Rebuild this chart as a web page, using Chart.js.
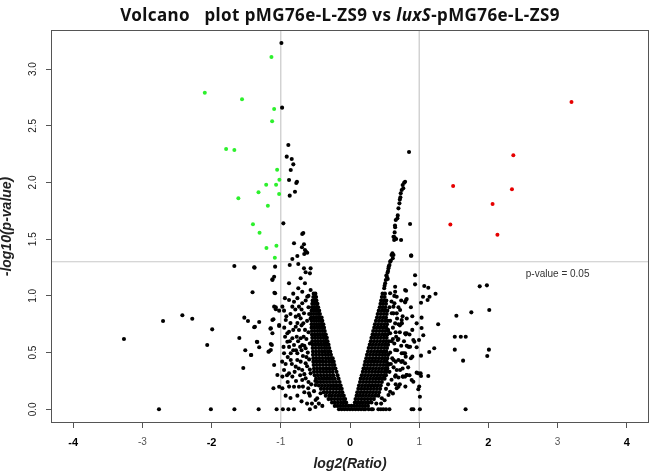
<!DOCTYPE html>
<html><head><meta charset="utf-8">
<script src="https://cdn.jsdelivr.net/npm/chart.js@4.4.0/dist/chart.umd.min.js"></script>
<style>
html,body{margin:0;padding:0;background:#fff;}
#wrap{position:relative;width:653px;height:475px;}
#title{position:absolute;top:3px;left:27px;width:626px;text-align:center;font:bold 17px "Noto Sans",sans-serif;letter-spacing:0.4px;color:#111;white-space:pre;}
</style></head><body>
<div id="wrap"><canvas id="c" width="653" height="475"></canvas>
<div id="title">Volcano   plot pMG76e-L-ZS9 vs <i>luxS</i>-pMG76e-L-ZS9</div></div>
<script>
const xTickValues = [-4,-3,-2,-1,0,1,2,3,4];
const yTickValues = [0,0.5,1,1.5,2,2.5,3];
const yTickLabels = ['0.0','0.5','1.0','1.5','2.0','2.5','3.0'];
const foldCutoffs = [-1, 1];
const pCutoff = 0.05;
const pLabel = 'p-value = 0.05';

const upRegulated = [[3.2,2.71],[2.36,2.24],[1.49,1.97],[2.34,1.94],[2.06,1.81],[1.45,1.63],[2.13,1.54]];
const downRegulated = [[-1.135,3.107],[-2.098,2.792],[-1.56,2.734],[-1.096,2.648],[-1.125,2.54],[-1.79,2.295],[-1.671,2.287],[-1.053,2.113],[-1.02,2.025],[-1.211,1.981],[-1.068,1.981],[-1.322,1.914],[-1.024,1.899],[-1.613,1.861],[-1.187,1.796],[-1.402,1.631],[-1.307,1.557],[-1.207,1.422],[-1.063,1.443],[-1.086,1.337]];

const zeroRowX = [-2.76,-2.01,-1.67,-1.32,-1.06,-0.97,-0.89,-0.81,-0.58,-0.16,-0.12,-0.08,-0.04,0.0,0.04,0.08,0.12,0.16,0.2,0.22,0.27,0.31,0.33,0.41,0.445,0.48,0.52,0.57,0.89,0.915,1.01,1.67];

const leftArmRows = [
[0.03,-0.22,-0.18,-0.14,-0.1,-0.06,-0.02],
[0.06,-0.26,-0.22,-0.175,-0.13,-0.09,-0.055],
[0.09,-0.31,-0.27,-0.225,-0.18,-0.14,-0.1,-0.07],
[0.12,-0.35,-0.3,-0.26,-0.215,-0.17,-0.13,-0.09],
[0.15,-0.38,-0.335,-0.29,-0.245,-0.2,-0.155,-0.11],
[0.18,-0.42,-0.375,-0.33,-0.285,-0.24,-0.195,-0.15,-0.12],
[0.21,-0.45,-0.405,-0.36,-0.315,-0.27,-0.225,-0.18,-0.135],
[0.24,-0.47,-0.425,-0.38,-0.335,-0.29,-0.245,-0.2,-0.15],
[0.27,-0.49,-0.445,-0.4,-0.355,-0.31,-0.265,-0.22,-0.165],
[0.30,-0.51,-0.465,-0.42,-0.375,-0.33,-0.285,-0.24,-0.18],
[0.33,-0.52,-0.475,-0.43,-0.385,-0.34,-0.295,-0.25,-0.195],
[0.36,-0.52,-0.475,-0.43,-0.385,-0.34,-0.295,-0.25,-0.21],
[0.39,-0.525,-0.48,-0.435,-0.39,-0.345,-0.3,-0.26,-0.225],
[0.42,-0.53,-0.485,-0.44,-0.395,-0.35,-0.305,-0.265,-0.235],
[0.45,-0.53,-0.485,-0.44,-0.395,-0.35,-0.31,-0.27,-0.25],
[0.48,-0.535,-0.49,-0.445,-0.4,-0.355,-0.315,-0.275],
[0.51,-0.535,-0.49,-0.445,-0.4,-0.36,-0.32,-0.285],
[0.54,-0.54,-0.495,-0.45,-0.41,-0.37,-0.335,-0.3],
[0.57,-0.54,-0.5,-0.455,-0.415,-0.375,-0.345,-0.31],
[0.60,-0.545,-0.5,-0.46,-0.42,-0.38,-0.35,-0.325],
[0.63,-0.545,-0.505,-0.465,-0.425,-0.385,-0.355,-0.335],
[0.66,-0.55,-0.51,-0.47,-0.43,-0.39,-0.36,-0.35],
[0.69,-0.55,-0.51,-0.47,-0.435,-0.4,-0.365],
[0.72,-0.555,-0.515,-0.475,-0.44,-0.405,-0.375],
[0.75,-0.555,-0.515,-0.48,-0.445,-0.41,-0.385],
[0.78,-0.555,-0.52,-0.485,-0.45,-0.42,-0.4],
[0.81,-0.56,-0.525,-0.49,-0.455,-0.43,-0.41],
[0.84,-0.56,-0.525,-0.49,-0.46,-0.435],
[0.87,-0.555,-0.52,-0.49,-0.46,-0.445],
[0.90,-0.55,-0.52,-0.49,-0.46],
[0.93,-0.545,-0.515,-0.485,-0.47],
[0.96,-0.54,-0.51,-0.485],
[0.99,-0.53,-0.505,-0.49],
[1.02,-0.525,-0.5]
];

const rightArmRows = [
[0.03,0.02,0.06,0.1,0.14,0.18,0.22,0.26],
[0.06,0.07,0.11,0.15,0.19,0.23,0.27,0.31],
[0.09,0.08,0.12,0.165,0.21,0.255,0.3,0.345],
[0.12,0.095,0.14,0.185,0.23,0.275,0.32,0.365,0.41],
[0.15,0.105,0.15,0.195,0.24,0.285,0.33,0.375,0.42],
[0.18,0.12,0.165,0.21,0.255,0.3,0.345,0.39,0.435],
[0.21,0.13,0.175,0.22,0.265,0.31,0.355,0.4,0.445],
[0.24,0.145,0.19,0.235,0.28,0.325,0.37,0.415,0.46],
[0.27,0.155,0.2,0.245,0.29,0.335,0.38,0.425,0.47,0.5],
[0.30,0.17,0.215,0.26,0.305,0.35,0.395,0.44,0.485,0.52],
[0.33,0.185,0.23,0.275,0.32,0.365,0.41,0.455,0.5,0.53],
[0.36,0.195,0.24,0.285,0.33,0.375,0.42,0.465,0.51,0.54],
[0.39,0.21,0.255,0.3,0.345,0.39,0.435,0.48,0.52,0.55],
[0.42,0.22,0.265,0.31,0.355,0.4,0.445,0.49,0.53],
[0.45,0.235,0.28,0.325,0.37,0.415,0.46,0.5,0.54],
[0.48,0.245,0.29,0.335,0.38,0.425,0.47,0.51,0.55],
[0.51,0.26,0.305,0.35,0.395,0.44,0.485,0.525],
[0.54,0.27,0.315,0.36,0.405,0.45,0.495,0.535],
[0.57,0.285,0.33,0.375,0.42,0.465,0.51,0.55],
[0.60,0.3,0.345,0.39,0.435,0.48,0.52,0.56],
[0.63,0.31,0.355,0.4,0.445,0.49,0.53],
[0.66,0.325,0.37,0.415,0.46,0.5,0.54],
[0.69,0.335,0.38,0.425,0.47,0.51,0.55],
[0.72,0.35,0.395,0.44,0.485,0.525],
[0.75,0.36,0.405,0.45,0.495,0.535],
[0.78,0.375,0.42,0.465,0.51,0.545],
[0.81,0.39,0.435,0.48,0.52],
[0.84,0.4,0.445,0.49,0.53],
[0.87,0.415,0.46,0.5,0.54],
[0.90,0.43,0.47,0.51],
[0.93,0.44,0.48,0.52],
[0.96,0.45,0.49,0.525],
[0.99,0.46,0.5],
[1.02,0.47,0.505]
];

const otherGenes = [
[-1.671,1.264],[-1.379,1.249],[-1.082,1.258],[-1.121,1.147],[-1.408,1.032],[-1.092,1.028],[-2.701,0.779],[-2.422,0.829],[-2.279,0.799],[-3.266,0.62],[-1.991,0.705],[-2.063,0.567],[-1.527,0.808],[-1.474,0.779],[-1.312,0.77],[-1.384,0.723],[-1.599,0.629],[-1.34,0.593],[-1.312,0.547],[-1.513,0.52],[-1.427,0.479],[-1.168,0.511],[-1.129,0.567],[-1.149,0.711],[-1.106,0.794],[-1.542,0.364],[-1.096,0.39],[-1.049,0.302],[-1.106,0.185],[-1.072,0.899],[-1.024,0.735],
[-0.991,3.23],[-0.981,2.66],[-0.891,2.331],[-0.914,2.228],[-0.842,2.207],[-0.819,2.16],[-0.856,2.11],[-0.881,2.022],[-0.766,2.007],[-0.776,1.995],[-0.795,1.919],[-0.871,1.884],[-0.963,1.64],[-0.69,1.546],[-0.675,1.555],[-0.809,1.464],[-0.665,1.455],[-0.694,1.429],[-0.651,1.405],[-0.618,1.381],[-0.661,1.37],[-0.636,1.39],[-0.761,1.352],[-0.833,1.325],
[-1.384,1.252],[-0.871,1.272],[-0.747,1.281],[-0.665,1.243],[-0.569,1.243],[-0.641,1.208],[-0.579,1.199],[-1.096,1.169],[-1.121,1.14],[-0.713,1.155],[-0.651,1.111],[-0.881,1.111],[-0.747,1.067],[-0.69,1.037],[-0.569,1.052],[-1.082,1.023],[-0.618,0.993],[-0.881,0.964],[-0.809,0.949],[-0.69,0.935],[-0.737,0.905],[-1.096,0.905],[-1.072,0.882],[-1.024,0.87],[-0.977,0.905],[-0.953,0.87],[-0.665,0.847],[-0.784,0.817],[-0.713,0.802],[-0.675,0.758],[-1.374,0.728],[-1.121,0.787],[-1.024,0.743],[-1.144,0.714],[-0.784,0.728],[-0.737,0.699],[-0.881,0.684],[-0.938,0.64],[-0.833,0.626],[-0.713,0.626],[-0.905,0.596],[-0.809,0.567],[-0.69,0.567],[-1.345,0.596],[-1.144,0.576],[-1.178,0.508],[-1.431,0.479],[-0.953,0.494],[-0.761,0.494],[-0.641,0.538],[-0.856,0.435],[-0.713,0.42],[-0.641,0.406],[-0.784,0.376],[-0.953,0.347],[-0.69,0.347],[-0.569,0.317],[-0.833,0.288],[-0.641,0.273],[-0.977,0.185],[-0.737,0.199],[-0.603,0.185],[-0.497,0.214],[-0.425,0.141],[-0.474,0.097],
[-0.833,0.905],[-0.928,0.787],[-0.905,0.67],[-0.856,0.494],[-0.761,0.435],[-0.881,0.317],[-0.69,0.258],[-0.809,0.199],[-0.593,0.141],[-0.497,0.082],[-1.121,0.67],[-1.144,0.523],[-0.977,0.288],[-1.024,0.199],
[-0.6,0.9],[-0.62,0.78],[-0.6,0.68],[-0.63,0.62],[-0.58,0.58],[-0.61,0.5],[-0.59,0.44],[-0.62,0.38],[-0.58,0.35],[-0.66,0.31],[-0.6,0.24],[-0.56,0.22],[-0.65,0.7],[-0.67,0.64],[-0.57,0.8],[-0.6,1.0],[-0.72,0.55],[-0.75,0.6],[-0.68,0.47],[-0.78,0.52],[-0.72,0.3],[-0.58,0.12],[-0.52,0.16],[-0.5,0.25],[-0.66,0.15],[-0.7,0.88],[-0.59,0.84],[-0.64,0.96],[-0.76,0.76],[-0.82,0.7],[-0.88,0.55],[-0.8,0.33],[-0.9,0.24],[-0.86,0.1],[-0.7,0.07],[-0.62,0.05],[-0.55,0.05],[-0.45,0.05],[-0.4,0.03],[-0.5,0.02],
[-0.92,0.82],[-0.86,0.76],[-0.95,0.72],[-0.9,0.46],[-0.93,0.4],[-0.84,0.4],[-0.82,0.52],[-0.87,0.6],[-0.77,0.64],[-0.74,0.83],[-0.79,0.88],[-0.86,0.84],[-0.94,0.98],[-0.7,0.74],[-0.66,0.56],[-0.74,0.36],[-0.78,0.25],[-0.88,0.2],[-0.93,0.12],[-0.76,0.12],[-0.68,0.2],[-0.63,0.46],[-0.7,0.52],[-0.82,1.02],[-0.76,0.98],[-0.96,0.55],[-0.98,0.42],[-0.91,0.3],
[0.494,1.067],[0.508,1.111],[0.517,1.14],[0.532,1.169],[0.542,1.205],[0.556,1.243],[0.57,1.272],[0.58,1.302],[0.618,1.332],[0.628,1.361],[0.613,1.376],[0.638,1.493],[0.628,1.522],[0.652,1.508],[0.667,1.502],[0.738,1.493],[0.652,1.605],[0.661,1.669],[0.685,1.684],[0.7,1.772],[0.714,1.816],[0.728,1.869],[0.733,1.905],[0.747,1.934],[0.761,1.978],[0.782,1.998],[0.796,2.007],[0.853,2.269],[0.868,1.634],[0.886,1.355],
[0.55,1.22],[0.525,1.18],[0.56,1.26],[0.59,1.31],[0.6,1.36],[0.64,1.52],[0.645,1.56],[0.65,1.62],[0.69,1.71],[0.72,1.85],[0.77,1.95],[0.5,1.09],[0.545,1.15],
[0.652,1.037],[0.796,1.052],[0.675,0.993],[0.796,0.949],[0.628,0.905],[0.675,0.846],[0.628,0.846],[0.747,0.758],[0.7,0.75],[0.667,0.64],[0.819,0.67],[0.93,0.596],[0.868,0.552],[0.796,0.494],[0.7,0.435],[0.761,0.426],[0.675,0.347],[0.819,0.302],[0.761,0.288],[0.675,0.185],[0.556,0.126],[0.987,0.317],[1.02,0.317],[1.0,0.2],
[0.652,1.081],[0.58,1.023],[0.642,0.935],[0.81,0.964],[0.724,0.876],[0.603,0.847],[0.747,0.787],[0.652,0.758],[0.796,0.67],[0.58,0.67],[0.69,0.611],[0.843,0.552],[0.652,0.523],[0.747,0.494],[0.628,0.435],[0.796,0.406],[0.724,0.347],[0.652,0.288],[0.796,0.288],[0.891,0.258],[0.7,0.199],[0.58,0.155],[0.46,0.097],[1.01,0.111],
[0.6,0.95],[0.58,0.78],[0.62,0.72],[0.6,0.6],[0.64,0.58],[0.58,0.5],[0.61,0.45],[0.59,0.4],[0.63,0.37],[0.57,0.33],[0.6,0.26],[0.55,0.22],[0.52,0.18],[0.62,0.14],[0.5,0.08],[0.45,0.05],[0.38,0.05],[0.66,0.42],[0.68,0.52],[0.7,0.62],[0.72,0.68],[0.66,0.68],[0.74,0.56],[0.7,0.28],[0.66,0.22],[0.74,0.42],[0.84,0.37],[0.88,0.45],[0.9,0.7],[0.7,0.9],[0.76,0.82],[0.82,0.8],[0.64,1.0],[0.57,0.9],[0.55,0.7],[0.56,0.4],
[0.78,0.6],[0.82,0.56],[0.86,0.66],[0.72,0.74],[0.68,0.8],[0.9,0.82],[0.88,0.9],[0.74,0.96],[0.66,0.3],[0.72,0.22],[0.8,0.2],[0.62,0.62],[0.76,0.36],[0.86,0.3],
[0.882,1.355],[0.94,1.182],[0.94,1.102],[1.073,1.087],[1.131,1.072],[1.236,1.019],[1.149,0.993],[1.121,0.964],[1.055,0.993],[1.026,0.94],[0.81,1.046],[0.819,0.973],[0.796,0.943],[1.874,1.084],[1.978,1.093],[1.753,0.855],[1.537,0.825],[2.012,0.876],[1.274,0.75],[1.034,0.808],[0.963,0.758],[1.034,0.717],[1.059,0.653],[0.805,0.661],[0.747,0.758],[0.915,0.611],[0.997,0.611],[0.853,0.552],[0.963,0.547],[1.217,0.538],[1.145,0.505],[1.026,0.473],[1.514,0.64],[1.601,0.64],[1.672,0.64],[1.514,0.526],[2.007,0.526],[1.983,0.47],[1.634,0.429],[0.772,0.494],[0.805,0.464],[0.901,0.464],[0.747,0.42],[0.963,0.323],[1.026,0.294],[1.131,0.294],[0.819,0.302],[0.767,0.288],[0.915,0.243],[0.987,0.176]
];

const xMin = -4.32, xMax = 4.32, yMin = -0.121, yMax = 3.345;

const toPts = a => a.map(p => ({x: p[0], y: p[1]}));
const rowPts = rows => rows.flatMap(r => r.slice(1).map(x => ({x: x, y: r[0]})));
const blackPts = zeroRowX.map(x => ({x: x, y: 0}))
  .concat(rowPts(leftArmRows), rowPts(rightArmRows), toPts(otherGenes));
const pLine = -Math.log10(pCutoff);

const refColor = '#c8c8c8';
const datasets = [
  {data: toPts(upRegulated), backgroundColor: '#e60000', borderWidth: 0, pointRadius: 2, order: 0},
  {data: toPts(downRegulated), backgroundColor: '#2df02d', borderWidth: 0, pointRadius: 2, order: 0},
  {data: blackPts, backgroundColor: '#000', borderWidth: 0, pointRadius: 2.05, order: 1},
  ...foldCutoffs.map(v => ({data: [{x: v, y: yMin}, {x: v, y: yMax}], showLine: true, borderColor: refColor, borderWidth: 1.2, pointRadius: 0, order: 2})),
  {data: [{x: xMin, y: pLine}, {x: xMax, y: pLine}], showLine: true, borderColor: refColor, borderWidth: 1.2, pointRadius: 0, order: 2}
];

const boxPlugin = {id: 'box', afterDraw(chart) {
  const {ctx, chartArea: a} = chart;
  ctx.save(); ctx.strokeStyle = '#555'; ctx.lineWidth = 1;
  ctx.strokeRect(Math.round(a.left) + 0.5, Math.round(a.top) + 0.5, Math.round(a.right - a.left) - 1, Math.round(a.bottom - a.top) - 1);
  ctx.restore();
}};
const labelPlugin = {id: 'plabel', afterDatasetsDraw(chart) {
  const {ctx, scales: {x, y}} = chart;
  ctx.save(); ctx.font = '10px "Liberation Sans", Arial, sans-serif'; ctx.fillStyle = '#333';
  ctx.textAlign = 'center'; ctx.textBaseline = 'middle';
  ctx.fillText(pLabel, x.getPixelForValue(3.0), y.getPixelForValue(1.19));
  ctx.restore();
}};

const gridOpts = {display: true, drawOnChartArea: false, drawTicks: true, tickLength: 5, tickColor: '#555', tickWidth: 1};
const titleFont = {family: '"Liberation Sans", Arial, sans-serif', size: 14, weight: 'bold', style: 'italic', lineHeight: 1};

new Chart(document.getElementById('c'), {
  type: 'scatter',
  data: {datasets: datasets},
  options: {
    responsive: false, animation: false, devicePixelRatio: 1,
    layout: {padding: {top: 30, right: 1, bottom: 0, left: 0}},
    plugins: {legend: {display: false}, tooltip: {enabled: false}, title: {display: false}},
    scales: {
      x: {type: 'linear', min: xMin, max: xMax,
        afterBuildTicks: s => { s.ticks = xTickValues.map(v => ({value: v})); },
        afterFit: s => { s.height = 52; },
        grid: gridOpts, border: {display: false},
        ticks: {padding: 8, autoSkip: false, minRotation: 0, maxRotation: 0,
          color: c => (c.tick && c.tick.value % 2 === 0) ? '#000' : '#555',
          font: c => (c.tick && c.tick.value % 2 === 0) ? {family: '"Liberation Sans", Arial', size: 11, weight: 'bold'} : {family: '"Liberation Sans", Arial', size: 10, weight: 'normal'},
          callback: v => String(v)},
        title: {display: true, text: 'log2(Ratio)', color: '#222', font: titleFont, padding: {top: 0, bottom: 4}}
      },
      y: {type: 'linear', min: yMin, max: yMax,
        afterBuildTicks: s => { s.ticks = yTickValues.map(v => ({value: v})); },
        afterFit: s => { s.width = 51; },
        grid: gridOpts, border: {display: false},
        ticks: {padding: 6, autoSkip: false, minRotation: 90, maxRotation: 90, crossAlign: 'center', color: '#222',
          font: {family: '"Liberation Sans", Arial', size: 10},
          callback: (v, i) => yTickLabels[i]},
        title: {display: true, text: '-log10(p-value)', color: '#222', font: titleFont, padding: {top: 0, bottom: 0}}
      }
    }
  },
  plugins: [boxPlugin, labelPlugin]
});
</script></body></html>
